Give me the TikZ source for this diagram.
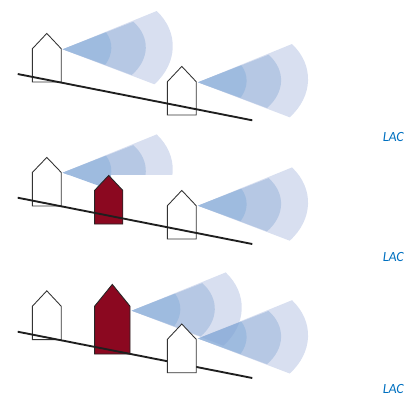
\documentclass[tikz,border=0pt]{standalone}
\usepackage{fontspec}
\setmainfont{Carlito}
\usepackage{xcolor}
\definecolor{beamouter}{RGB}{216,223,240}
\definecolor{beammid}{RGB}{182,200,228}
\definecolor{beaminner}{RGB}{158,187,223}
\definecolor{overouter}{RGB}{203,212,235}
\definecolor{overmid}{RGB}{158,182,219}
\definecolor{overinner}{RGB}{126,164,212}
\definecolor{housered}{RGB}{139,8,32}
\definecolor{lacblue}{RGB}{0,112,192}
\newcommand{\outerwedge}{(0,0) -- (94,-38.3) .. controls (116.5,-17) and (115,14) .. (91.7,35) -- cycle}
\newcommand{\midwedge}{(0,0) -- (70.6,-27.6) .. controls (88,-12) and (87,10) .. (69,25.7) -- cycle}
\newcommand{\innerwedge}{(0,0) -- (43.3,-17) .. controls (50.8,-7) and (50.2,5) .. (42.6,15.4) -- cycle}
% left, right, apex y, shoulder y, bottom y
\newcommand{\housepath}[5]{(#1,#5) -- (#1,#4) -- ({(#1+#2)/2},#3) -- (#2,#4) -- (#2,#5) -- cycle}
\begin{document}
\begin{tikzpicture}[x=0.75pt, y=-0.75pt,
  house/.style={draw=black!80, line width=0.65pt, fill=white},
  redhouse/.style={draw=black!85, line width=0.65pt, fill=housered},
  ground/.style={draw=black!88, line width=1.4pt},
  beamgroup/.style={transparency group, opacity=0.75},
  lac/.style={anchor=base west, inner sep=0pt, font=\fontsize{10.5}{12}\selectfont\itshape, text=lacblue}]
\useasboundingbox (0,0) rectangle (407,394);
% first row
\draw[house] \housepath{32.4}{61.2}{33.4}{48.7}{82};
\draw[house] \housepath{167.4}{196.2}{66.4}{81.7}{115};
\draw[ground] (17.7,74) -- (252.3,120.3);
\begin{scope}[shift={(62.7,49.3)}]
  \fill[beamouter] \outerwedge;
  \fill[beammid] \midwedge;
  \fill[beaminner] \innerwedge;
\end{scope}
\begin{scope}[shift={(198,82.3)}]
  \fill[beamouter] \outerwedge;
  \fill[beammid] \midwedge;
  \fill[beaminner] \innerwedge;
\end{scope}
\node[lac] (laca) at (382.5,141) {LAC};
% second row
\draw[house] \housepath{32.4}{61.2}{157.4}{172.4}{206};
\draw[house] \housepath{167.4}{196.2}{190.4}{205.7}{239};
\begin{scope}[shift={(62.7,172.7)}]
  \begin{scope}
    \clip (0,-60) rectangle (130,1.8);
    \fill[beamouter] \outerwedge;
    \fill[beammid] \midwedge;
  \end{scope}
  \fill[beaminner] \innerwedge;
\end{scope}
\begin{scope}[shift={(198,205.7)}]
  \fill[beamouter] \outerwedge;
  \fill[beammid] \midwedge;
  \fill[beaminner] \innerwedge;
\end{scope}
\draw[redhouse] \housepath{94.6}{122.8}{175.4}{190.4}{224};
\draw[ground] (17.7,197.7) -- (252.3,244);
\node[lac] (lacb) at (382.5,261.5) {LAC};
% third row
\draw[house] \housepath{32.4}{61.2}{290.8}{306.2}{339.6};
\draw[redhouse] \housepath{94.6}{130}{284.4}{306.2}{354};
\draw[ground] (17.7,331.7) -- (252.3,378);
\begin{scope}[shift={(131.7,310.7)}]
  \fill[beamouter] \outerwedge;
  \fill[beammid] \midwedge;
  \fill[beaminner] \innerwedge;
\end{scope}
\begin{scope}[shift={(198,338.5)}, beamgroup]
  \fill[overouter] \outerwedge;
  \fill[overmid] \midwedge;
  \fill[overinner] \innerwedge;
\end{scope}
\draw[house] \housepath{167.4}{196.2}{324}{339.3}{372.7};
\node[lac] (lacc) at (382.5,393.6) {LAC};
\end{tikzpicture}
\end{document}
